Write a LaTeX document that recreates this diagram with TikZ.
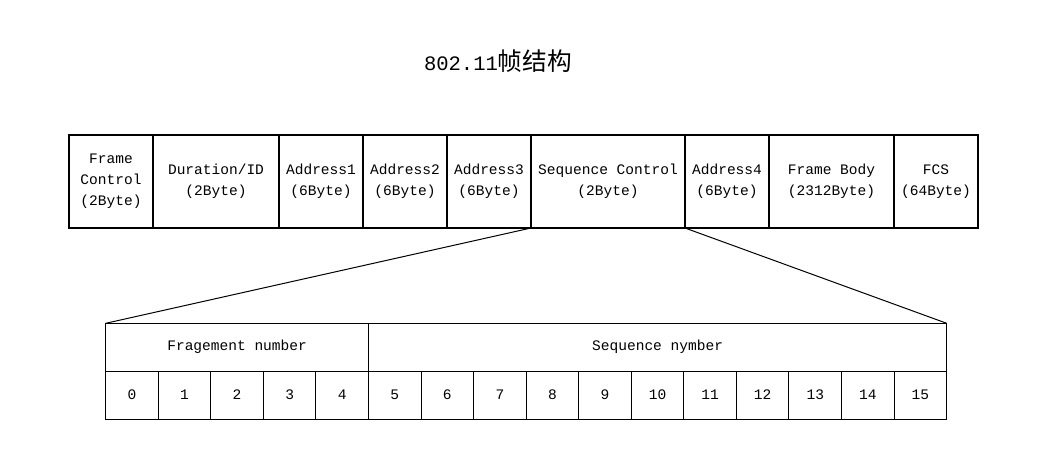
\documentclass[tikz,border=0pt]{standalone}
\usepackage{fontspec}
\setmainfont{Liberation Mono}
\newfontfamily\cjk{Noto Sans CJK SC}
\usetikzlibrary{fit}
\tikzset{
  px/.style={x=0.75pt,y=-0.75pt},
  txt/.style={align=center,inner sep=0pt,font=\fontsize{10.9}{15.75}\selectfont},
  topcell/.style={draw,line width=1.5pt,inner sep=0pt,outer sep=0pt,label={[txt]center:#1}},
  botcell/.style={draw,line width=0.75pt,inner sep=0pt,outer sep=0pt,label={[txt]center:#1}},
  conn/.style={line width=0.75pt}
}
\begin{document}
\begin{tikzpicture}[px]
\useasboundingbox (0,0) rectangle (1061,465);
\node (title) at (498,61) {\fontsize{15.4}{18}\selectfont 802.11{\cjk\fontsize{18.5}{20}\selectfont 帧结构}};
% top row
\node[topcell={Frame\\Control\\(2Byte)},fit={(69,135)(153,228)}] (fc) {};
\node[topcell={Duration/ID\\(2Byte)},fit={(153,135)(279,228)}] (dur) {};
\node[topcell={Address1\\(6Byte)},fit={(279,135)(363,228)}] (a1) {};
\node[topcell={Address2\\(6Byte)},fit={(363,135)(447,228)}] (a2) {};
\node[topcell={Address3\\(6Byte)},fit={(447,135)(531,228)}] (a3) {};
\node[topcell={Sequence Control\\(2Byte)},fit={(531,135)(685,228)}] (sc) {};
\node[topcell={Address4\\(6Byte)},fit={(685,135)(769,228)}] (a4) {};
\node[topcell={Frame Body\\(2312Byte)},fit={(769,135)(894,228)}] (fb) {};
\node[topcell={FCS\\(64Byte)},fit={(894,135)(978,228)}] (fcs) {};
% bottom table
\node[botcell={Fragement number},fit={(105.7,323.3)(368.5,371)}] (frag) {};
\node[botcell={Sequence nymber},fit={(368.5,323.3)(946.7,371)}] (seqn) {};
\foreach \i in {0,...,15}{
  \pgfmathsetmacro\xa{105.7+\i*52.56}
  \pgfmathsetmacro\xb{105.7+(\i+1)*52.56}
  \node[botcell={\i},fit={(\xa,371)(\xb,419)}] (b\i) {};
}
% connectors
\draw[conn] (sc.south west) -- (frag.north west);
\draw[conn] (a4.south west) -- (seqn.north east);
\end{tikzpicture}
\end{document}
